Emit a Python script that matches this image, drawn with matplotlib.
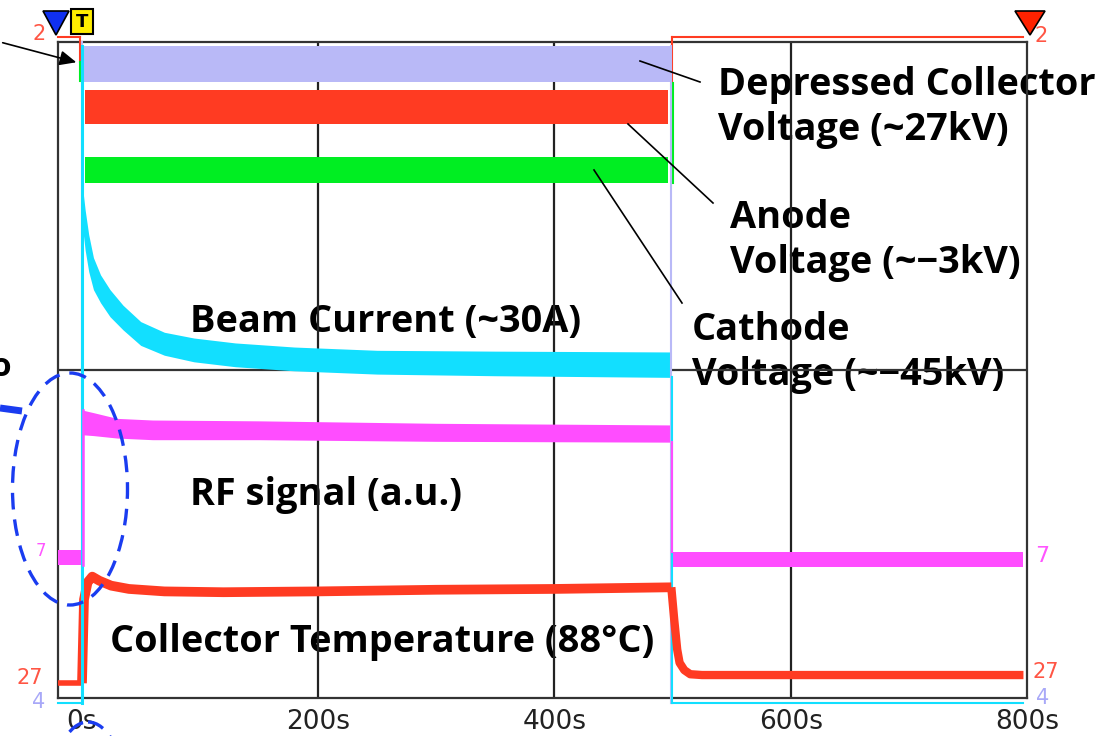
import matplotlib
matplotlib.use("Agg")
import matplotlib.pyplot as plt
from matplotlib.patches import Ellipse, Polygon, Rectangle

# ---------------- data (time in s, level in screen divisions 0..8) ----------------
t_on = 0.5
t_off = 499.5

# depressed collector voltage (lavender band)
dc_t = [0.8, 498.0]
dc_lo = [7.51, 7.51]
dc_hi = [7.95, 7.95]

# anode voltage (red band)
an_t = [2.5, 496.0]
an_lo = [7.00, 7.00]
an_hi = [7.41, 7.41]

# cathode voltage (green band)
ca_t = [2.5, 496.0]
ca_lo = [6.28, 6.28]
ca_hi = [6.60, 6.60]

# beam current (cyan band)
bc_t = [1, 3, 6, 10, 16, 24, 35, 50, 70, 95, 130, 180, 250, 350, 499]
bc_hi = [6.20, 5.95, 5.65, 5.37, 5.16, 4.98, 4.79, 4.59, 4.46, 4.39, 4.33, 4.28, 4.24, 4.23, 4.22]
bc_lo = [5.71, 5.46, 5.20, 4.98, 4.82, 4.65, 4.49, 4.30, 4.18, 4.10, 4.04, 3.99, 3.95, 3.93, 3.91]
bc_off = -0.06

# RF signal (magenta band)
rf_pre_t = [-20, 0.5]
rf_pre_lo = [1.62, 1.62]
rf_pre_hi = [1.80, 1.80]
rf_t = [1, 10, 30, 60, 150, 300, 499]
rf_hi = [3.51, 3.48, 3.41, 3.39, 3.38, 3.35, 3.33]
rf_lo = [3.21, 3.20, 3.17, 3.15, 3.15, 3.13, 3.12]
rf_post_t = [499.5, 797]
rf_post_lo = [1.60, 1.60]
rf_post_hi = [1.78, 1.78]

# collector temperature (red line)
ct_pre_t = [-20, 0.3]
ct_pre = [0.18, 0.18]
ct_t = [0.3, 2, 5, 9, 15, 25, 40, 70, 120, 200, 300, 400, 499]
ct_v = [0.18, 1.20, 1.41, 1.48, 1.43, 1.37, 1.33, 1.30, 1.29, 1.30, 1.32, 1.33, 1.35]
ct_post_t = [499, 501.5, 504, 506, 510, 515, 525, 797]
ct_post_v = [1.35, 0.95, 0.59, 0.43, 0.34, 0.29, 0.28, 0.28]

x_ticks = [0, 200, 400, 600, 800]
x_tick_labels = ["0s", "200s", "400s", "600s", "800s"]

# colours
C_LAV = "#B9B9F7"
C_RED = "#FF3B22"
C_GRN = "#00EE22"
C_CYN = "#12DFFF"
C_MAG = "#FF4DFF"
C_FRAME = "#333333"
C_BLUE = "#1A3CF0"

# ---------------- figure ----------------
W, H = 1115, 736
fig = plt.figure(figsize=(W / 100, H / 100), dpi=100)
fig.patch.set_facecolor("white")

ax = fig.add_axes([58 / W, 38 / H, 969 / W, 656 / H])
ax.set_xlim(-20, 800)
ax.set_ylim(0, 8)
ax.set_facecolor("white")

ov = fig.add_axes([0, 0, 1, 1], zorder=5)
ov.set_xlim(0, W)
ov.set_ylim(H, 0)
ov.axis("off")
ov.patch.set_visible(False)

for sp in ax.spines.values():
    sp.set_color(C_FRAME)
    sp.set_linewidth(1.6)
    sp.set_zorder(2)

ax.set_yticks([])
ax.set_xticks(x_ticks)
ax.set_xticklabels(x_tick_labels, fontsize=19, color="#222222", family="DejaVu Sans")
ax.tick_params(axis="x", length=0, pad=8)

# grid
for xv in x_ticks[1:-1]:
    ax.axvline(xv, color="#222222", lw=1.6, zorder=2)
ax.axhline(4, color="#333333", lw=1.6, zorder=2)

# ---------------- traces ----------------
Z = 3
ax.fill_between(dc_t, dc_lo, dc_hi, color=C_LAV, lw=0, zorder=Z)
ax.fill_between(an_t, an_lo, an_hi, color=C_RED, lw=0, zorder=Z)
ax.fill_between(ca_t, ca_lo, ca_hi, color=C_GRN, lw=0, zorder=Z)
ax.fill_between(bc_t, bc_lo, bc_hi, color=C_CYN, lw=0, zorder=Z)
ax.fill_between(rf_pre_t, rf_pre_lo, rf_pre_hi, color=C_MAG, lw=0, zorder=Z)
ax.fill_between(rf_t, rf_lo, rf_hi, color=C_MAG, lw=0, zorder=Z)
ax.fill_between(rf_post_t, rf_post_lo, rf_post_hi, color=C_MAG, lw=0, zorder=Z)

# transitions
ax.plot([t_on - 1.5, t_on - 1.5], [8.06, 7.76], color=C_RED, lw=1.5, zorder=Z, clip_on=False)
ax.plot([t_on - 1.5, t_on - 1.5], [7.76, 7.53], color=C_GRN, lw=1.5, zorder=Z, clip_on=False)
ax.plot([-20, t_on - 1.5], [8.06, 8.06], color=C_RED, lw=1.5, zorder=Z, clip_on=False)
ax.plot([t_off + 0.5, 797], [8.06, 8.06], color=C_RED, lw=1.5, zorder=Z, clip_on=False)
ax.plot([t_off + 0.5, t_off + 0.5], [7.0, 8.06], color=C_RED, lw=1.5, zorder=Z, clip_on=False)
ax.plot([t_off + 1.0, t_off + 1.0], [6.28, 7.5], color=C_GRN, lw=1.5, zorder=Z)
ax.plot([t_off - 0.5, t_off - 0.5], [bc_off, 7.95], color=C_LAV, lw=1.5, zorder=Z, clip_on=False)
ax.plot([t_on - 0.6, t_on - 0.6], [bc_off, 8.0], color=C_LAV, lw=1.5, zorder=Z, clip_on=False)

ax.plot([-20, t_on], [bc_off, bc_off], color=C_CYN, lw=1.5, zorder=Z, clip_on=False)
ax.plot([t_on, t_on], [bc_off, 7.95], color=C_CYN, lw=2.2, zorder=Z + 0.1, clip_on=False)
ax.plot([t_off, t_off], [bc_off, bc_lo[-1]], color=C_CYN, lw=1.5, zorder=Z, clip_on=False)
ax.plot([t_off, 797], [bc_off, bc_off], color=C_CYN, lw=1.5, zorder=Z, clip_on=False)

ax.plot([t_on + 0.3, t_on + 0.3], [rf_pre_lo[0], rf_hi[0]], color=C_MAG, lw=1.8, zorder=Z + 0.2)
ax.plot([t_off + 0.2, t_off + 0.2], [rf_lo[-1], rf_post_hi[0]], color=C_MAG, lw=1.5, zorder=Z)

ax.plot(ct_pre_t, ct_pre, color=C_RED, lw=4, zorder=Z, solid_capstyle="butt")
ax.plot(ct_t, ct_v, color=C_RED, lw=7, zorder=Z, solid_capstyle="butt", solid_joinstyle="round")
ax.plot(ct_post_t, ct_post_v, color=C_RED, lw=6, zorder=Z, solid_capstyle="butt")

# ---------------- annotation text (under grid) ----------------
tf = ov.transData
TXT = dict(fontsize=27.3, fontweight="bold", color="black", family=["Open Sans", "DejaVu Sans"],
           transform=tf, zorder=1, va="baseline", ha="left")
ax.text(718, 95, "Depressed Collector", **TXT)
ax.text(718, 140, "Voltage (~27kV)", **TXT)
ax.text(730, 228, "Anode", **TXT)
ax.text(730, 273, "Voltage (~\u22123kV)", **TXT)
ax.text(692, 340, "Cathode", **TXT)
ax.text(692, 385, "Voltage (~\u221245kV)", **TXT)
ax.text(190, 332, "Beam Current (~30A)", **TXT)
ax.text(190, 505, "RF signal (a.u.)", **TXT)
ax.text(110, 652, "Collector Temperature (88\u00b0C)", **TXT)

# pointer lines
ov.plot([640, 700], [61, 82], color="black", lw=1.2)
ov.plot([628, 713], [124, 203], color="black", lw=1.2)
ov.plot([594, 682], [170, 303], color="black", lw=1.2)
ov.annotate("", xy=(79, 63), xytext=(0, 42),
            arrowprops=dict(arrowstyle="-|>,head_length=1.0,head_width=0.45", color="black", lw=1.2))

# dashed ellipses and cut-off marks
ov.add_patch(Ellipse((70, 489), 115, 232, fill=False, ec=C_BLUE, lw=2.4, ls=(0, (5, 3))))
ov.add_patch(Ellipse((88, 792), 72, 140, fill=False, ec=C_BLUE, lw=2.4, ls=(0, (5, 3))))
ov.plot([0, 22], [408, 411], color=C_BLUE, lw=5, solid_capstyle="butt")
ov.text(-10, 376, "o", fontsize=24, fontweight="bold", family="Open Sans", color="black",
        va="baseline", ha="left")

# channel markers
ov.add_patch(Polygon([[43, 11], [69, 11], [56, 35]], closed=True, fc="#1030F0", ec="black", lw=1.2))
ov.add_patch(Rectangle((71, 9), 22, 25, fc="#FFEE00", ec="black", lw=1.5))
ov.text(82, 22, "T", fontsize=13, fontweight="bold", color="black", family="DejaVu Sans",
        ha="center", va="center")
ov.add_patch(Polygon([[1015, 11], [1045, 11], [1030, 35]], closed=True, fc="#FF2200", ec="black", lw=1.2))

LBL = dict(family="DejaVu Sans", fontsize=15, va="center", ha="left")
ov.text(32, 34, "2", color="#FF5544", **LBL)
ov.text(1034, 36, "2", color="#FF5544", **LBL)
ov.text(16, 678, "27", color="#FF5544", **LBL)
ov.text(1033, 672, "27", color="#FF5544", **LBL)
ov.text(32, 702, "4", color="#A8A8F8", **LBL)
ov.text(1036, 698, "4", color="#A8A8F8", **LBL)
ov.text(36, 551, "7", color="#FF55FF", fontsize=12, family="DejaVu Sans", va="center", ha="left")
ov.text(1035, 556, "7", color="#FF55FF", fontsize=16, family="DejaVu Sans", va="center", ha="left")

fig.savefig("out.png", dpi=100)
